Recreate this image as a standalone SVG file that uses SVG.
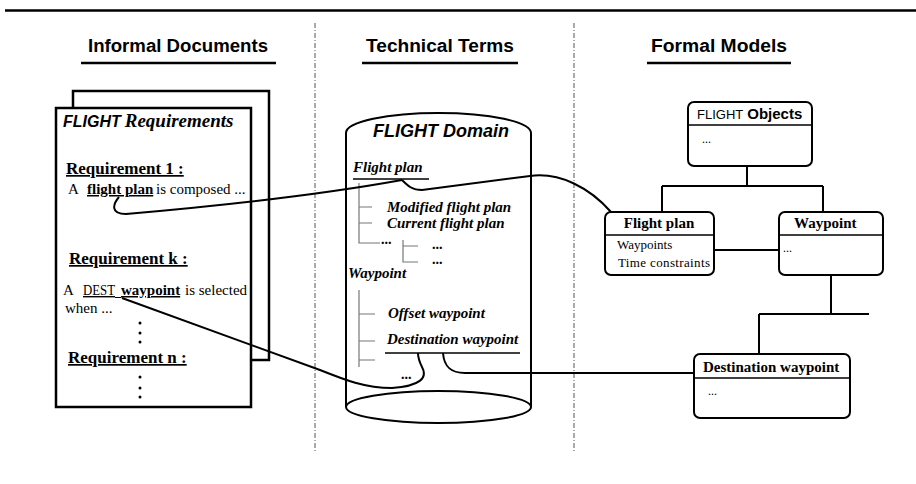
<svg xmlns="http://www.w3.org/2000/svg" width="916" height="484" viewBox="0 0 916 484">
<style>
.hd{font-family:"Liberation Sans",Arial,sans-serif;font-weight:bold;font-size:18px;fill:#000}
.tm{font-family:"Liberation Serif","Times New Roman",serif;fill:#000}
.b{font-weight:bold}
.i{font-style:italic}
.ar{font-family:"Liberation Sans",Arial,sans-serif}
.ln{fill:none;stroke:#000;stroke-width:2}
.pg{fill:#fff;stroke:#000;stroke-width:2.5}
.box{fill:#fff;stroke:#000;stroke-width:2}
.tree{fill:none;stroke:#777;stroke-width:1.2}
.sep{fill:none;stroke:#555;stroke-width:1;stroke-dasharray:5 2 1 2}
</style>
<line x1="5" y1="10.5" x2="916" y2="10.5" stroke="#000" stroke-width="2.5"/>
<line class="sep" x1="315" y1="23" x2="315" y2="452"/>
<line class="sep" x1="574" y1="23" x2="574" y2="452"/>

<g id="headers">
<text class="hd" x="88" y="52" textLength="180" lengthAdjust="spacingAndGlyphs">Informal Documents</text>
<line x1="81" y1="63" x2="276" y2="63" stroke="#000" stroke-width="2.5"/>
<text class="hd" x="366" y="52" textLength="148" lengthAdjust="spacingAndGlyphs">Technical Terms</text>
<line x1="362" y1="63" x2="518" y2="63" stroke="#000" stroke-width="2.5"/>
<text class="hd" x="651" y="52" textLength="136" lengthAdjust="spacingAndGlyphs">Formal Models</text>
<line x1="647" y1="63" x2="791" y2="63" stroke="#000" stroke-width="2.5"/>
</g>

<g id="documents">
<rect class="pg" x="73" y="91" width="196" height="269"/>
<rect class="pg" x="56" y="108" width="195" height="299"/>
<text x="63" y="127" font-size="16"><tspan class="ar b i">FLIGHT</tspan><tspan class="tm b i" font-size="19" dx="4">Requirements</tspan></text>
<text class="tm b" x="66" y="174" font-size="17" text-decoration="underline">Requirement 1 :</text>
<text class="tm" x="68" y="194" font-size="15">A</text>
<text class="tm b" x="87" y="194" font-size="15" text-decoration="underline">flight plan</text>
<text class="tm" x="156" y="194" font-size="15">is composed ...</text>
<text class="tm b" x="69" y="264" font-size="17" text-decoration="underline">Requirement k :</text>
<text class="tm" x="63" y="295" font-size="15">A</text>
<text class="tm" x="83" y="295" font-size="14" textLength="32" lengthAdjust="spacingAndGlyphs" text-decoration="underline">DEST</text>
<line x1="115" y1="297.5" x2="121" y2="297.5" stroke="#000" stroke-width="1"/>
<text class="tm b" x="121" y="295" font-size="15" text-decoration="underline">waypoint</text>
<text class="tm" x="185" y="295" font-size="15">is selected</text>
<text class="tm" x="65" y="313" font-size="15">when ...</text>
<circle cx="140" cy="323" r="1.5"/><circle cx="140" cy="333" r="1.5"/><circle cx="140" cy="342" r="1.5"/>
<text class="tm b" x="68" y="363" font-size="17" text-decoration="underline">Requirement n :</text>
<circle cx="140" cy="377" r="1.5"/><circle cx="140" cy="388" r="1.5"/><circle cx="140" cy="397" r="1.5"/>
</g>

<g id="domain">
<path class="ln" d="M346,133 A92,20 0 0 1 531,133 M346,133 L346,407 M531,133 L531,407"/>
<ellipse cx="438.5" cy="407" rx="92.5" ry="16" fill="#fff" stroke="#000" stroke-width="2"/>
<text class="ar b i" x="441" y="137" font-size="18" text-anchor="middle">FLIGHT Domain</text>
<text class="tm b i" x="353" y="172" font-size="15">Flight plan</text>
<line x1="353" y1="179" x2="429" y2="179" stroke="#000" stroke-width="1.5"/>
<path class="tree" d="M359,183 V243 H380 M359,207 H372 M359,223 H372 M403,240 V262 H418 M403,246 H418"/>
<text class="tm b i" x="387" y="212" font-size="15">Modified flight plan</text>
<text class="tm b i" x="387" y="228" font-size="15">Current flight plan</text>
<text class="tm b" x="381" y="244" font-size="14">...</text>
<text class="tm b" x="432" y="249" font-size="14">...</text>
<text class="tm b" x="432" y="264" font-size="14">...</text>
<text class="tm b i" x="348" y="278" font-size="15">Waypoint</text>
<path class="tree" d="M359,290 V367 M359,314 H375 M359,341 H375 M359,360 H375"/>
<text class="tm b i" x="388" y="318" font-size="15">Offset waypoint</text>
<text class="tm b i" x="387" y="344" font-size="15">Destination waypoint</text>
<line x1="385" y1="353" x2="520" y2="353" stroke="#000" stroke-width="1.5"/>
<text class="tm b" x="401" y="379" font-size="14">...</text>
</g>

<g id="objects">
<rect class="box" x="688" y="102" width="124" height="64" rx="6"/>
<line x1="688" y1="125" x2="812" y2="125" stroke="#000" stroke-width="1.5"/>
<text x="697" y="119"><tspan class="ar" font-size="13">FLIGHT</tspan><tspan class="ar b" font-size="15" dx="4">Objects</tspan></text>
<text class="tm" x="702" y="143" font-size="12">...</text>
</g>
<g id="flightplan">
<rect class="box" x="605" y="212" width="109" height="63" rx="6"/>
<line x1="605" y1="235" x2="714" y2="235" stroke="#000" stroke-width="1.5"/>
<text class="tm b" x="659" y="228" font-size="15" text-anchor="middle">Flight plan</text>
<text class="tm" x="617" y="249" font-size="13">Waypoints</text>
<text class="tm" x="618" y="267" font-size="13" textLength="92">Time constraints</text>
</g>
<g id="waypoint">
<rect class="box" x="779" y="212" width="104" height="63" rx="6"/>
<line x1="779" y1="235" x2="883" y2="235" stroke="#000" stroke-width="1.5"/>
<text class="tm b" x="794" y="228" font-size="15">Waypoint</text>
<text class="tm" x="783" y="252" font-size="12">...</text>
</g>
<g id="destination">
<rect class="box" x="694" y="354" width="156" height="64" rx="6"/>
<line x1="694" y1="378" x2="850" y2="378" stroke="#000" stroke-width="1.5"/>
<text class="tm b" x="703" y="372" font-size="15">Destination waypoint</text>
<text class="tm" x="708" y="395" font-size="12">...</text>
</g>

<g id="connectors">
<path class="ln" d="M747,166 V186 M662,186 H823 M662,186 V212 M823,186 V212"/>
<path class="ln" d="M714,250 H779"/>
<path class="ln" d="M831,275 V314 M759,314 H869 M759,314 V354"/>
<path class="ln" d="M119,197 C113,204 110,214 126,214 C230,205 330,193 402,180"/>
<path class="ln" d="M402,180 C408,186 412,190 422,190 L530,176 C560,172 590,188 611,212"/>
<path class="ln" d="M122,298 L320,370 C345,380 365,388 392,388 C420,386 428,378 422,367 C419,361 418,357 418,353"/>
<path class="ln" d="M443,353 C444,366 450,373 465,373 L694,373"/>
</g>
</svg>
